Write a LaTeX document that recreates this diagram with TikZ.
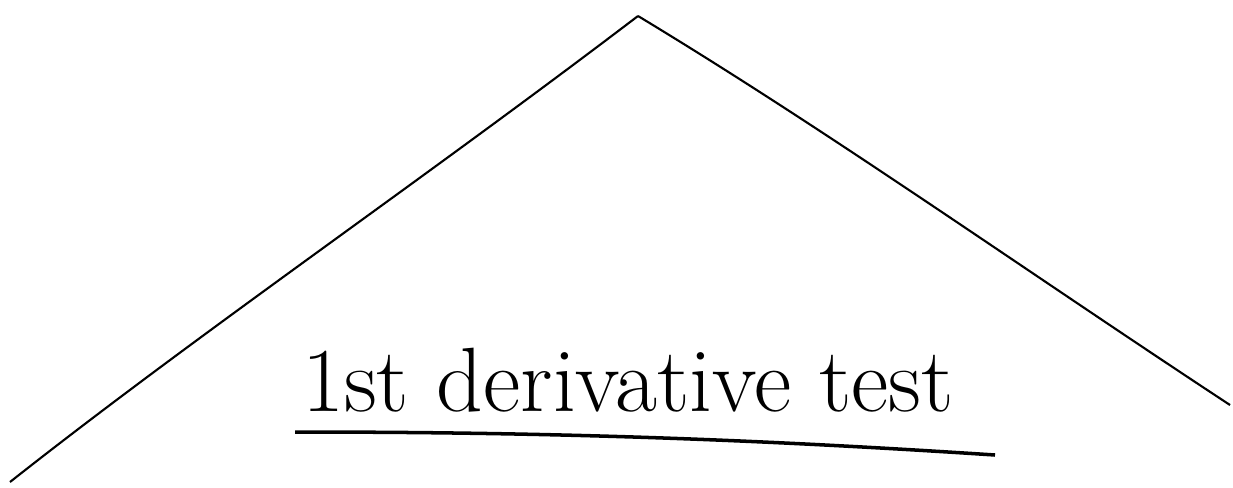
\documentclass[tikz,border=0pt]{standalone}
\usepackage{tikz}

\begin{document}
\begin{tikzpicture}[line width=0.6pt, font=\fontsize{26}{30}\selectfont]
  \useasboundingbox (0, 0) rectangle (12.33, 4.87);

  \coordinate (left) at (0.10, 0.05);
  \coordinate (peak) at (6.38, 4.71);
  \coordinate (right) at (12.30, 0.82);
  \draw (left) .. controls (2.0, 1.55) and (4.2, 3.05) .. (peak);
  \draw (peak) .. controls (8.3, 3.55) and (10.2, 2.2) .. (right);

  \node[anchor=base] (title) at (6.28, 0.76) {1st derivative test};
  \coordinate (ulstart) at (2.95, 0.55);
  \coordinate (ulend) at (9.95, 0.32);
  \draw[line width=1pt] (ulstart) .. controls (5.5, 0.55) and (7.5, 0.48) .. (ulend);
\end{tikzpicture}
\end{document}
